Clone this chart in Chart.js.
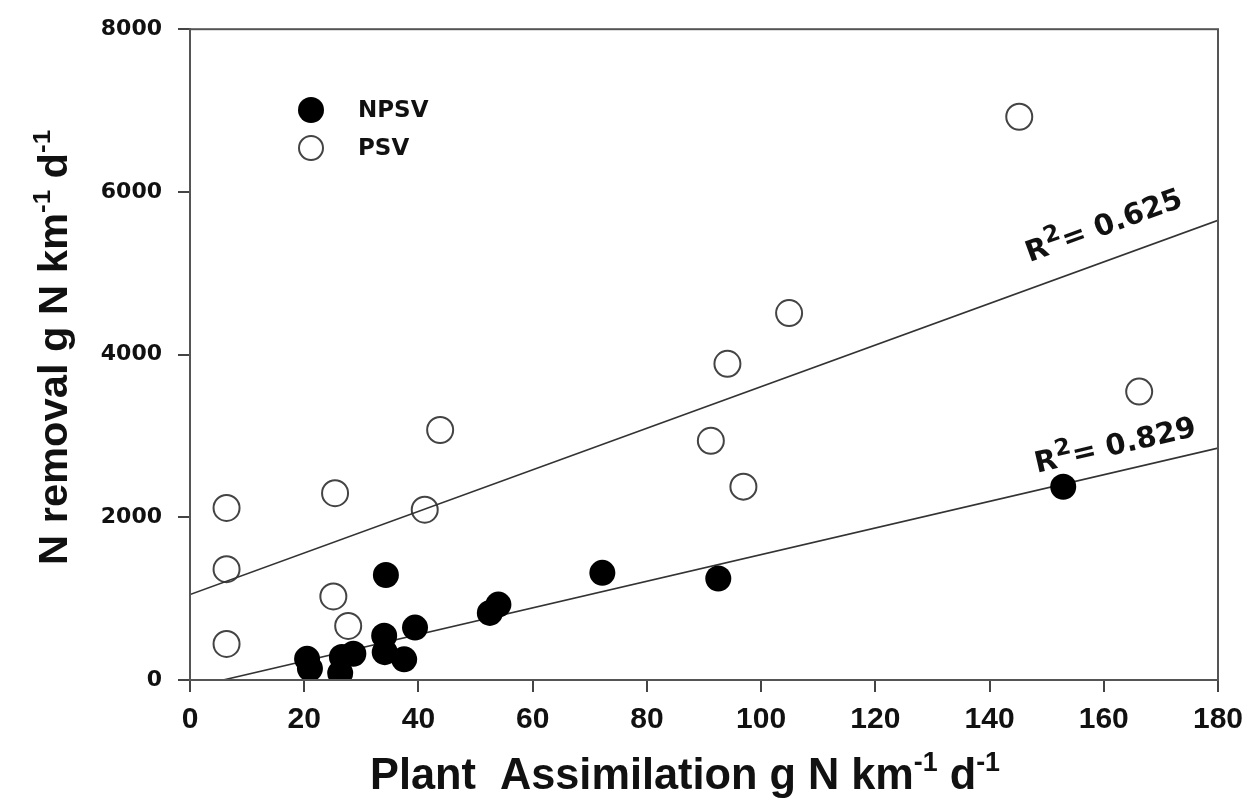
<!DOCTYPE html>
<html>
<head>
<meta charset="utf-8">
<script src="https://cdn.jsdelivr.net/npm/chart.js@4.4.1/dist/chart.umd.min.js"></script>
<style>
  html, body { margin: 0; padding: 0; background: #fff; }
  #wrap { width: 1259px; height: 808px; position: relative; }
</style>
</head>
<body>
<div id="wrap"><canvas id="chart"></canvas></div>
<script>
// NPSV (filled circles)
const npsvX = [20.5, 21, 26.3, 26.6, 28.6, 34.1, 34.3, 34, 37.5, 39.4, 52.5, 54, 72.2, 92.5, 152.9]
const npsvY = [260, 140, 85, 282, 322, 342, 1290, 544, 254, 644, 825, 927, 1317, 1248, 2376]

// PSV (open circles)
const psvX = [6.4, 6.4, 6.4, 25.4, 25.1, 27.7, 41.1, 43.8, 91.2, 94.1, 96.9, 104.9, 145.2, 166.2]
const psvY = [2115, 1362, 443, 2296, 1027, 665, 2094, 3073, 2940, 3887, 2377, 4511, 6924, 3545]

// regression lines
const fitPsvX = [0, 180]
const fitPsvY = [1050, 5650]
const fitNpsvX = [5.8, 180]
const fitNpsvY = [0, 2850]
const r2Texts = ['0.625', '0.829']

// axis ticks
const xTickVals = [0, 20, 40, 60, 80, 100, 120, 140, 160, 180]
const yTickVals = [0, 2000, 4000, 6000, 8000]

const toPoints = (xs, ys) => xs.map((x, i) => ({ x: x, y: ys[i] }))

// draw text made of pieces, some of them superscript
function drawRich(ctx, parts, size, family, supScale = 0.62, supRise = 0.42) {
  let x = 0
  parts.forEach((p) => {
    const s = p.sup ? size * supScale : size
    ctx.font = 'bold ' + s + 'px ' + family
    ctx.fillText(p.t, x, p.sup ? -size * supRise : 0)
    x += ctx.measureText(p.t).width
  })
  return x
}
function richWidth(ctx, parts, size, family) {
  let w = 0
  parts.forEach((p) => {
    const s = p.sup ? size * 0.62 : size
    ctx.font = 'bold ' + s + 'px ' + family
    w += ctx.measureText(p.t).width
  })
  return w
}

const decorPlugin = {
  id: 'decor',
  afterDraw(chart) {
    const ctx = chart.ctx
    const a = chart.chartArea
    const xs = chart.scales.x
    const ys = chart.scales.y

    // frame
    ctx.save()
    ctx.strokeStyle = '#555'
    ctx.lineWidth = 2
    ctx.strokeRect(a.left, a.top, a.right - a.left, a.bottom - a.top)
    ctx.restore()

    // legend
    ctx.save()
    ctx.beginPath()
    ctx.arc(311, 110, 13, 0, Math.PI * 2)
    ctx.fillStyle = '#000'
    ctx.fill()
    ctx.beginPath()
    ctx.arc(311, 148, 12, 0, Math.PI * 2)
    ctx.strokeStyle = '#444'
    ctx.lineWidth = 2
    ctx.stroke()
    ctx.fillStyle = '#111'
    ctx.font = 'bold 23px "DejaVu Sans"'
    ctx.textBaseline = 'middle'
    ctx.fillText('NPSV', 358, 111)
    ctx.fillText('PSV', 358, 149)
    ctx.restore()

    // R² labels along the fit lines
    const fits = [
      { x: fitPsvX, y: fitPsvY, at: 148.5, lift: 25, text: r2Texts[0] },
      { x: fitNpsvX, y: fitNpsvY, at: 149, lift: 17, text: r2Texts[1] },
    ]
    fits.forEach((f) => {
      const x0 = xs.getPixelForValue(f.x[0]), y0 = ys.getPixelForValue(f.y[0])
      const x1 = xs.getPixelForValue(f.x[1]), y1 = ys.getPixelForValue(f.y[1])
      const ang = Math.atan2(y1 - y0, x1 - x0)
      const t = (f.at - f.x[0]) / (f.x[1] - f.x[0])
      const px = x0 + (x1 - x0) * t + Math.sin(ang) * f.lift
      const py = y0 + (y1 - y0) * t - Math.cos(ang) * f.lift
      ctx.save()
      ctx.translate(px, py)
      ctx.rotate(ang)
      ctx.fillStyle = '#111'
      ctx.textBaseline = 'alphabetic'
      drawRich(ctx, [{ t: 'R' }, { t: '2', sup: true }, { t: '= ' + f.text }], 29, '"DejaVu Sans"', 0.8, 0.4)
      ctx.restore()
    })

    // axis titles
    const fam = '"Liberation Sans", Arial, sans-serif'
    const xTitle = [{ t: 'Plant  Assimilation g N km' }, { t: '-1', sup: true }, { t: ' d' }, { t: '-1', sup: true }]
    ctx.save()
    ctx.fillStyle = '#111'
    ctx.textBaseline = 'alphabetic'
    let w = richWidth(ctx, xTitle, 44, fam)
    ctx.translate(370, 789)
    ctx.scale(630 / w, 1)
    drawRich(ctx, xTitle, 44, fam)
    ctx.restore()

    const yTitle = [{ t: 'N removal g N km' }, { t: '-1', sup: true }, { t: ' d' }, { t: '-1', sup: true }]
    ctx.save()
    ctx.fillStyle = '#111'
    ctx.textBaseline = 'alphabetic'
    w = richWidth(ctx, yTitle, 40, fam)
    ctx.translate(67, 565)
    ctx.rotate(-Math.PI / 2)
    ctx.scale(435 / w, 1)
    drawRich(ctx, yTitle, 40, fam)
    ctx.restore()
  },
}

const ctx = document.getElementById('chart').getContext('2d')
const chart = new Chart(ctx, {
  type: 'scatter',
  data: {
    datasets: [
      {
        label: 'NPSV',
        data: toPoints(npsvX, npsvY),
        pointRadius: 13,
        pointBackgroundColor: '#000',
        pointBorderColor: '#000',
        pointBorderWidth: 0,
      },
      {
        label: 'fit NPSV',
        type: 'line',
        data: toPoints(fitNpsvX, fitNpsvY),
        showLine: true,
        borderColor: '#333',
        borderWidth: 1.6,
        pointRadius: 0,
        fill: false,
      },
      {
        label: 'fit PSV',
        type: 'line',
        data: toPoints(fitPsvX, fitPsvY),
        showLine: true,
        borderColor: '#333',
        borderWidth: 1.6,
        pointRadius: 0,
        fill: false,
      },
      {
        label: 'PSV',
        data: toPoints(psvX, psvY),
        pointRadius: 13,
        pointBackgroundColor: 'rgba(255,255,255,0)',
        pointBorderColor: '#444',
        pointBorderWidth: 2,
      },
    ],
  },
  options: {
    responsive: true,
    maintainAspectRatio: false,
    animation: false,
    devicePixelRatio: 1,
    layout: { padding: { top: 18, right: 41, left: 0, bottom: 0 } },
    plugins: { legend: { display: false }, tooltip: { enabled: false } },
    scales: {
      x: {
        type: 'linear',
        min: 0,
        max: 180,
        afterBuildTicks: (s) => { s.ticks = xTickVals.map((v) => ({ value: v })) },
        afterFit: (s) => { s.height = 128 },
        grid: { drawOnChartArea: false, tickLength: 12, color: '#444', lineWidth: 2 },
        border: { display: true, color: '#555', width: 2 },
        ticks: {
          color: '#111',
          padding: 10,
          maxRotation: 0,
          font: { family: '"Liberation Sans", sans-serif', weight: 'bold', size: 30 },
          callback: (v) => String(v),
        },
      },
      y: {
        type: 'linear',
        min: 0,
        max: 8000,
        afterBuildTicks: (s) => { s.ticks = yTickVals.map((v) => ({ value: v })) },
        afterFit: (s) => { s.width = 190 },
        grid: { drawOnChartArea: false, tickLength: 12, color: '#444', lineWidth: 2 },
        border: { display: true, color: '#555', width: 2 },
        ticks: {
          color: '#111',
          padding: 16,
          font: { family: '"DejaVu Sans"', weight: 'bold', size: 22 },
          callback: (v) => String(v),
        },
      },
    },
  },
  plugins: [decorPlugin],
})
</script>
</body>
</html>
